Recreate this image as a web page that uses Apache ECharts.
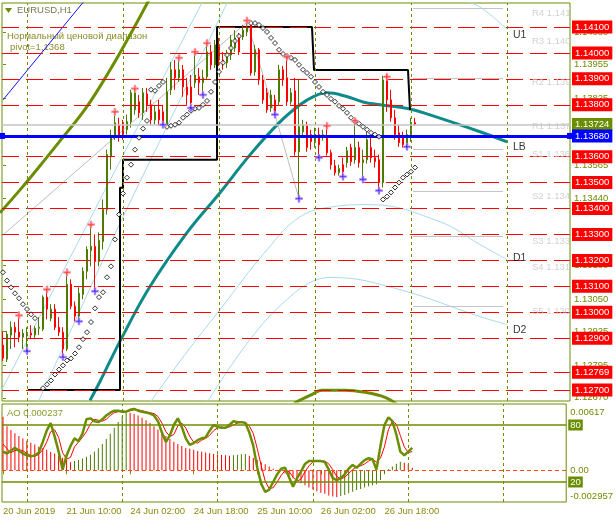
<!DOCTYPE html>
<html><head><meta charset="utf-8">
<script src="https://cdn.jsdelivr.net/npm/echarts@6/dist/echarts.min.js"></script>
<style>html,body{margin:0;padding:0;background:#fff}#c{width:616px;height:523px}</style>
</head><body><div id="c"></div>
<script>
// ---------- DATA ----------
const dateLabels = ['20 Jun 2019','21 Jun 10:00','24 Jun 02:00','24 Jun 18:00','25 Jun 10:00','26 Jun 02:00','26 Jun 18:00'];
const dateTickIdx = [0,16,32,48,64,80,96];
const daySepIdx = [6,30,54,78,102,126];

const opens = [1.12873,1.12819,1.12912,1.12942,1.12923,1.12904,1.12908,1.12919,1.12912,1.12938,
1.12935,1.13058,1.12977,1.13012,1.12942,1.12923,1.12858,1.13108,1.13023,1.12985,
1.13069,1.13158,1.13238,1.13254,1.13196,1.13273,1.13396,1.13600,1.13677,1.13723,
1.13723,1.13704,1.13735,1.13781,1.13812,1.13769,1.13842,1.13800,1.13742,1.13781,
1.13773,1.13723,1.13858,1.13935,1.13904,1.13935,1.13869,1.13869,1.13885,1.13908,
1.13885,1.13908,1.14004,1.13954,1.14031,1.13973,1.13962,1.13992,1.14019,1.14058,
1.14062,1.14081,1.14108,1.13927,1.14012,1.13896,1.13846,1.13788,1.13819,1.13812,
1.13935,1.13904,1.13812,1.13854,1.13619,1.13696,1.13719,1.13685,1.13654,1.13685,
1.13677,1.13677,1.13615,1.13565,1.13538,1.13569,1.13577,1.13635,1.13588,1.13635,
1.13577,1.13588,1.13635,1.13596,1.13588,1.13500,1.13896,1.13819,1.13750,1.13692,
1.13673,1.13646,1.13673,1.13731];
const closes = [1.12823,1.12915,1.12942,1.12923,1.12904,1.12919,1.12919,1.12912,1.12938,1.12942,
1.13058,1.13012,1.13012,1.12942,1.12923,1.12858,1.13108,1.13023,1.12985,1.13073,
1.13158,1.13242,1.13254,1.13196,1.13277,1.13396,1.13608,1.13677,1.13731,1.13677,
1.13673,1.13735,1.13846,1.13846,1.13769,1.13846,1.13800,1.13742,1.13773,1.13742,
1.13731,1.13850,1.13935,1.13904,1.13935,1.13869,1.13838,1.13808,1.13915,1.13885,
1.13904,1.14004,1.13954,1.14031,1.13973,1.13962,1.13985,1.14050,1.14058,1.14004,
1.14088,1.14100,1.13923,1.14012,1.13896,1.13819,1.13781,1.13838,1.13773,1.13935,
1.13896,1.13812,1.13846,1.13619,1.13715,1.13723,1.13635,1.13658,1.13685,1.13646,
1.13685,1.13615,1.13569,1.13538,1.13554,1.13542,1.13623,1.13581,1.13635,1.13577,
1.13588,1.13665,1.13596,1.13581,1.13500,1.13896,1.13819,1.13750,1.13685,1.13654,
1.13646,1.13685,1.13731,1.13724];
const lows = [1.12812,1.12808,1.12858,1.12865,1.12885,1.12858,1.12850,1.12896,1.12896,1.12912,
1.12927,1.12973,1.12965,1.12931,1.12908,1.12827,1.12850,1.13012,1.12965,1.12965,
1.13050,1.13127,1.13177,1.13081,1.13177,1.13242,1.13377,1.13550,1.13665,1.13658,
1.13665,1.13685,1.13712,1.13762,1.13750,1.13742,1.13773,1.13723,1.13723,1.13719,
1.13723,1.13712,1.13838,1.13858,1.13888,1.13831,1.13800,1.13788,1.13865,1.13838,
1.13838,1.13896,1.13935,1.13942,1.13950,1.13935,1.13942,1.13973,1.14004,1.13992,
1.14050,1.14065,1.13912,1.13912,1.13877,1.13804,1.13769,1.13773,1.13762,1.13796,
1.13873,1.13796,1.13800,1.13604,1.13438,1.13677,1.13619,1.13627,1.13635,1.13596,
1.13662,1.13604,1.13550,1.13527,1.13527,1.13523,1.13558,1.13565,1.13573,1.13558,
1.13512,1.13573,1.13577,1.13558,1.13469,1.13481,1.13773,1.13735,1.13665,1.13638,
1.13635,1.13631,1.13658,1.13719];
const highs = [1.12927,1.12927,1.12965,1.12962,1.12981,1.12935,1.12942,1.12950,1.12946,1.12981,
1.13065,1.13088,1.13031,1.13031,1.12981,1.12942,1.13154,1.13127,1.13042,1.13096,
1.13173,1.13254,1.13338,1.13300,1.13308,1.13435,1.13627,1.13704,1.13773,1.13750,
1.13742,1.13762,1.13858,1.13862,1.13838,1.13865,1.13865,1.13819,1.13800,1.13819,
1.13800,1.13904,1.13965,1.13973,1.13981,1.13954,1.13904,1.13915,1.14004,1.13942,
1.13935,1.14038,1.14031,1.14050,1.14058,1.14004,1.14012,1.14069,1.14088,1.14077,
1.14108,1.14119,1.14112,1.14031,1.14019,1.13915,1.13865,1.13858,1.13838,1.13954,
1.13950,1.13985,1.13865,1.13904,1.13900,1.13742,1.13735,1.13704,1.13712,1.13712,
1.13704,1.13719,1.13627,1.13588,1.13569,1.13596,1.13638,1.13650,1.13738,1.13658,
1.13627,1.13696,1.13673,1.13627,1.13608,1.13912,1.13919,1.13858,1.13781,1.13723,
1.13696,1.13704,1.13750,1.13750];

const sar = [1.13154,1.13122,1.13096,1.13073,1.13054,1.13031,1.13012,1.12992,1.12977,null,
1.12707,1.12722,1.12737,1.12760,1.12779,1.12795,1.12814,1.12822,1.12841,1.12865,
1.12896,1.12923,1.12962,1.13015,1.13058,1.13077,1.13135,1.13177,1.13281,1.13377,
1.13458,1.13519,1.13569,1.13627,1.13673,1.13708,1.13738,1.13858,1.13854,1.13873,
1.13888,1.13715,1.13719,1.13723,1.13731,1.13750,1.13762,1.13777,1.13785,1.13788,
1.13800,1.13815,1.13850,1.13888,1.13927,1.13962,1.13992,1.14019,1.14046,1.14065,
null,null,1.14115,1.14115,1.14108,1.14096,1.14081,1.14058,1.14038,1.14012,
1.13996,1.13988,1.13981,1.13973,1.13954,1.13935,1.13923,1.13908,1.13888,1.13869,
1.13850,1.13838,1.13823,1.13812,1.13796,1.13785,1.13769,1.13750,1.13735,1.13727,
1.13715,1.13704,1.13692,1.13685,1.13677,1.13435,1.13446,1.13462,1.13481,1.13500,
1.13519,1.13531,1.13542,1.13558];

const fracUpIdx = [4,11,16,22,28,33,44,48,51,61,71,81,88,96];
const fracUpVal = [1.12988,1.13088,1.13154,1.13338,1.13773,1.13862,1.13981,1.14004,1.14038,1.14125,1.13985,1.13719,1.13738,1.13908];
const fracDnIdx = [6,15,19,23,40,47,50,68,74,79,85,90,94,101];
const fracDnVal = [1.12850,1.12827,1.12965,1.13081,1.13723,1.13788,1.13838,1.13762,1.13438,1.13596,1.13523,1.13512,1.13469,1.13638];

const tealMA = [[21.75,1.12660],[24.25,1.12733],[29.75,1.12903],[36.75,1.13099],[46,1.13307],[54.25,1.13461],[61.75,1.13607],[69.25,1.13734],[74.25,1.13800],[77.5,1.13831],[81,1.13846],[85.5,1.13834],[90,1.13811],[94.25,1.13800],[101.75,1.13784],[106.75,1.13761],[119.25,1.13696],[126,1.13657]];
const oliveUpper = [[-0.75,1.13384],[4.25,1.13472],[9.25,1.13565],[14.25,1.13661],[20.75,1.13788],[26.75,1.13934],[31.75,1.14069],[36.75,1.14212]];
const oliveLower = [[72.75,1.12649],[76.75,1.12679],[79.75,1.12699],[85.5,1.12699],[90.5,1.12691],[95.5,1.12672],[98.5,1.12645]];
const lightBlue1 = [[-0.75,1.12687],[24.25,1.13434],[50.5,1.14216]];
const lightBlue2 = [[8.75,1.12652],[24.25,1.13176],[30.5,1.13384],[44.25,1.13819],[56.75,1.14216]];
const lightBlue3 = [[36.75,1.12652],[45.5,1.12837],[54.25,1.13010],[66,1.13241],[74.25,1.13368],[82.5,1.13407],[91.75,1.13415],[109.25,1.13349],[119.25,1.13261],[126,1.13203]];
const lightBlue4 = [[51,1.12652],[61.75,1.12895],[71,1.13049],[78.5,1.13126],[82.5,1.13134],[99.25,1.13087],[119.25,1.12983],[126,1.12953]];
const lightBlue5 = [[113,1.14216],[119.25,1.14177],[126,1.14092]];
const zigzag = [[-0.75,1.13288],[61,1.14119],[68,1.13762],[74,1.13438]];
const blueDiag = [[0,1.13819],[20.5,1.14204]];
const dayRange = [[6.25,1.12700],[29.25,1.12700],[29.25,1.13480],[30,1.13480],[30,1.13588],[53.5,1.13588],[53.5,1.14100],[77.25,1.14100],[77.75,1.13934],[101.25,1.13934],[101.75,1.13780]];

const redLevels = [1.14100,1.14000,1.13900,1.13800,1.13600,1.13500,1.13400,1.13300,1.13200,1.13100,1.13000,1.12900,1.12769,1.12700];
const priceTicks = [1.14080,1.13955,1.13825,1.13565,1.13440,1.13180,1.13050,1.12925,1.12795,1.12670];
const pivotPrice = 1.13680;
const bidPrice = 1.13724;
const pivotNames = ['R4 1.141','R3 1.140','R2 1.139','R1 1.137','S1 1.136','S2 1.134','S3 1.133','S4 1.131','S5 1.130'];
const pivotVals = [1.14173,1.14062,1.13904,1.13735,1.13627,1.13465,1.13292,1.13191,1.13022];
const pivotLineVals = [1.14173,1.13904,1.13627,1.13465,1.13292,1.13022];
const zoneNames = ['U1','LB','D1','D2'];
const zoneVals = [1.14069,1.13638,1.13207,1.12933];

const aoValues = [0.00498,0.0041,0.00375,0.00345,0.0032,0.00295,0.00275,0.00255,0.0024,0.0022,
0.00205,0.0019,0.0017,0.00155,0.00135,0.00115,0.00095,0.00075,0.00085,0.00095,
0.0011,0.00125,0.00145,0.00175,0.00205,0.00245,0.0029,0.0034,0.00395,0.0045,
0.005,0.0054,0.00535,0.00525,0.0051,0.0049,0.00465,0.0044,0.0041,0.0038,
0.0035,0.0032,0.0029,0.00265,0.00245,0.00225,0.0021,0.002,0.0019,0.0018,
0.00172,0.00165,0.00158,0.00152,0.00147,0.00143,0.0014,0.00136,0.0014,0.00145,
0.0015,0.00152,0.00135,0.00115,0.00095,0.00075,0.00055,0.00035,0.00015,-0.0001,
-0.00005,-0.0003,-0.0005,-0.00075,-0.0009,-0.0012,-0.0014,-0.0016,-0.0018,-0.00195,
-0.0021,-0.0022,-0.00235,-0.00245,-0.0025,-0.0024,-0.0023,-0.00215,-0.002,-0.00185,
-0.00175,-0.0016,-0.0015,-0.0014,-0.0013,-0.0009,-0.0003,0.0001,0.00035,0.0006,
0.0008,0.0007,0.00055,0.000237];
const aoTicks = [0.00617,0,-0.002957];
const aoTickLabels = ['0.00617','0.00','-0.002957'];
const stochK = [52,50,53,56,53,50,48,47,48,51,
62,74,82,68,52,33,48,58,66,63,
71,86,87,84,83,86,90,93,95,95,
94,94,96,97,95,94,93,92,90,84,
72,62,69,80,87,78,66,59,61,64,
66,67,74,80,78,77,77,80,84,83,
83,82,72,58,35,18,9.5,12,20,28,
34,35,25,15,24,31,39,42,42,42,
42,41,33,24,22,24,28,34,38,35,
39,43,45,44,33,58,80,88,84,70,
52,48,52,56];
const stochD = [60,55,51,53,54,53,50,48,47,49,
54,62,73,75,67,51,44,46,57,62,
67,73,81,86,85,84,86,90,93,94,
95,94,95,96,96,95,94,93,92,89,
82,73,68,70,79,82,77,68,62,61,
64,66,69,74,77,78,77,78,80,82,
83,83,79,71,55,37,21,13,14,20,
27,32,31,25,21,23,31,37,41,42,
42,42,39,33,26,23,25,29,33,36,
37,39,42,44,41,45,57,75,84,81,
69,57,51,52];
const stochLevels = [80,20];

// ---------- STYLE ----------
const OL = '#6b8e00', GRN = '#4d7a00', RED = '#ff0000', TXT = '#6f8a00';
const FF = '"Liberation Sans", Arial, sans-serif';
const idx = a => a.map((v,i)=>[i,v]);

const chart = echarts.init(document.getElementById('c'));
const lineS = (data, color, width, z, smooth) => ({type:'line', xAxisIndex:0, yAxisIndex:0, data, symbol:'none', smooth: smooth||false, lineStyle:{color, width}, silent:true, z, animation:false});

const option = {
  animation:false,
  textStyle:{fontFamily:FF},
  grid:[
    {left:2, right:46, top:3, height:398, show:true, borderColor:OL, borderWidth:1},
    {left:2, right:46, top:404, height:98, show:true, borderColor:OL, borderWidth:1}
  ],
  xAxis:[
    {gridIndex:0, type:'value', min:-0.25, max:141.75, show:false},
    {gridIndex:1, type:'value', min:-0.25, max:141.75,
      axisLine:{show:false}, splitLine:{show:false},
      axisTick:{show:true, customValues:dateTickIdx, length:4, lineStyle:{color:OL}},
      axisLabel:{customValues:dateTickIdx, formatter:v=>dateLabels[dateTickIdx.indexOf(v)], align:'left', color:'#8a8a10', fontSize:9.5, margin:4}}
  ],
  yAxis:[
    {gridIndex:0, type:'value', position:'right', min:1.126577, max:1.141926,
      axisLine:{show:false}, splitLine:{show:false},
      axisTick:{show:true, customValues:priceTicks, length:3, lineStyle:{color:OL}},
      axisLabel:{customValues:priceTicks, formatter:v=>v.toFixed(5), color:TXT, fontSize:9.5, margin:4}},
    {gridIndex:1, type:'value', position:'right', min:-0.002957, max:0.00617,
      axisLine:{show:false}, splitLine:{show:false}, axisTick:{show:false},
      axisLabel:{customValues:aoTicks, color:TXT, fontSize:9.5, margin:4,
        formatter:v=>{const k=aoTicks.indexOf(v); return k===0?'{t|'+aoTickLabels[k]+'}':(k===2?'{b|'+aoTickLabels[k]+'}':aoTickLabels[k]);},
        rich:{t:{padding:[16,0,0,0],color:TXT,fontSize:9.5}, b:{padding:[0,0,12,0],color:TXT,fontSize:9.5}}}},
    {gridIndex:1, type:'value', position:'right', min:-1.05, max:102.1, show:false}
  ],
  graphic:[
    {type:'polygon', shape:{points:[[5,8],[12,8],[8.5,13]]}, style:{fill:OL}},
    {type:'text', left:17, top:5, style:{text:'EURUSD,H1', fill:'#7a7a50', font:'9.5px '+FF}},
    {type:'text', left:7, top:31, style:{text:'Нормальный ценовой диапазон', fill:'#8a8a2a', font:'9.5px '+FF}},
    {type:'text', left:10, top:42, style:{text:'pivot=1,1368', fill:'#8a8a2a', font:'9.5px '+FF}},
    {type:'text', left:7, top:408, style:{text:'AO 0.000237', fill:'#8a9a2a', font:'9.5px '+FF}}
  ],
  series:[
    {type:'line', xAxisIndex:0, yAxisIndex:0, data:[], z:1, silent:true,
      markLine:{silent:true, symbol:'none', animation:false, precision:5,
        lineStyle:{color:RED, type:[17,7], width:1},
        label:{position:'end', distance:2, color:'#fff', backgroundColor:RED, padding:[2,3,1,3], fontSize:9.5},
        data: redLevels.map(v=>({yAxis:v, label:{formatter:v.toFixed(5)}}))}},
    {type:'line', xAxisIndex:0, yAxisIndex:0, data:[], z:1, silent:true,
      markLine:{silent:true, symbol:'none', animation:false, precision:3, label:{show:false},
        lineStyle:{color:OL, type:[3,3], width:1}, data: daySepIdx.map(v=>({xAxis:v}))}},
    {type:'line', xAxisIndex:1, yAxisIndex:1, data:[], z:1, silent:true,
      markLine:{silent:true, symbol:'none', animation:false, precision:3, label:{show:false},
        lineStyle:{color:OL, type:[3,3], width:1}, data: daySepIdx.map(v=>({xAxis:v}))}},
    {type:'line', xAxisIndex:0, yAxisIndex:0, data:[], z:2, silent:true,
      markLine:{silent:true, symbol:'none', animation:false, precision:5,
        lineStyle:{color:'#c4c4c4', type:'solid', width:1},
        label:{show:false},
        data: [{yAxis:bidPrice, lineStyle:{width:1.5}, label:{show:true, position:'end', distance:2, formatter:bidPrice.toFixed(5), color:'#fff', backgroundColor:OL, padding:[2,3,1,3], fontSize:9.5}}]
          .concat(pivotLineVals.map(v=>[{coord:[102.5,v]},{coord:[125,v]}]))}},
    lineS(lightBlue1,'#a9d9e9',1,2),
    lineS(lightBlue2,'#a9d9e9',1,2,0.3),
    lineS(lightBlue3,'#a9d9e9',1,2,0.4),
    lineS(lightBlue4,'#a9d9e9',1,2,0.4),
    lineS(lightBlue5,'#a9d9e9',1,2,0.3),
    lineS(zigzag,'#bdbdbd',1,2),
    lineS(blueDiag,'#1010ff',1,2),
    lineS(oliveUpper,OL,3,3,0.4),
    lineS(oliveLower,OL,3,3,0.4),
    lineS(tealMA,'#0f8a8a',3,3,0.4),
    lineS(dayRange,'#000',2,3),
    {type:'candlestick', xAxisIndex:0, yAxisIndex:0, z:4, barWidth:2, silent:true,
      data: opens.map((o,i)=>[i,o,closes[i],lows[i],highs[i]]),
      encode:{x:0, y:[1,2,3,4]},
      itemStyle:{color:GRN, color0:RED, borderColor:GRN, borderColor0:RED, borderWidth:1}},
    {type:'scatter', xAxisIndex:0, yAxisIndex:0, z:5, silent:true, symbol:'diamond', symbolSize:5,
      data: idx(sar).filter(d=>d[1]!==null),
      itemStyle:{color:'#fff', borderColor:'#000', borderWidth:1}},
    {type:'scatter', xAxisIndex:0, yAxisIndex:0, z:6, silent:true,
      symbol:'path://M3,0H5V3H8V5H5V8H3V5H0V3H3Z', symbolSize:7,
      data: fracUpIdx.map((x,k)=>[x,fracUpVal[k]]),
      itemStyle:{color:'#ff3000', borderColor:'#ff9ac0', borderWidth:1}},
    {type:'scatter', xAxisIndex:0, yAxisIndex:0, z:6, silent:true,
      symbol:'path://M3,0H5V3H8V5H5V8H3V5H0V3H3Z', symbolSize:7,
      data: fracDnIdx.map((x,k)=>[x,fracDnVal[k]]),
      itemStyle:{color:'#1a1aff', borderColor:'#c890ff', borderWidth:1}},
    {type:'line', xAxisIndex:0, yAxisIndex:0, data:[], z:7, silent:true,
      markLine:{silent:true, symbol:['rect','rect'], symbolSize:6, animation:false, precision:5,
        lineStyle:{color:'#0000ff', type:'solid', width:3},
        label:{position:'end', distance:2, color:'#fff', backgroundColor:'#0000ff', padding:[2,3,1,3], fontSize:9.5, formatter:pivotPrice.toFixed(5)},
        data:[{yAxis:pivotPrice}]}},
    {type:'scatter', xAxisIndex:0, yAxisIndex:0, z:8, silent:true, symbolSize:0,
      data: pivotVals.map((v,k)=>({value:[132.25,v], name:pivotNames[k]})),
      label:{show:true, position:'right', distance:0, offset:[0,5], formatter:'{b}', color:'#c6c6c6', fontSize:9.5}},
    {type:'scatter', xAxisIndex:0, yAxisIndex:0, z:8, silent:true, symbolSize:0,
      data: zoneVals.map((v,k)=>({value:[127.5,v], name:zoneNames[k]})),
      label:{show:true, position:'right', distance:0, formatter:'{b}', color:'#000', fontSize:10.5}},
    {type:'bar', xAxisIndex:1, yAxisIndex:1, z:2, silent:true, barWidth:1,
      data: idx(aoValues),
      itemStyle:{color:p=>{const i=p.dataIndex; return (i>0 && aoValues[i]>aoValues[i-1]) ? GRN : RED;}},
      markLine:{silent:true, symbol:'none', animation:false, precision:5, label:{show:false},
        lineStyle:{color:'#ff4a10', type:[4,3], width:1}, data:[{yAxis:0}]}},
    {type:'line', xAxisIndex:1, yAxisIndex:2, z:3, silent:true, symbol:'none',
      data: idx(stochD), lineStyle:{color:RED, width:1}},
    {type:'line', xAxisIndex:1, yAxisIndex:2, z:4, silent:true, symbol:'none',
      data: idx(stochK), lineStyle:{color:OL, width:2.5},
      markLine:{silent:true, symbol:'none', animation:false, precision:2,
        lineStyle:{color:OL, type:'solid', width:1.5},
        label:{position:'end', distance:2, color:'#fff', backgroundColor:OL, padding:[1,2,0,2], fontSize:9.5},
        data: stochLevels.map(v=>({yAxis:v, label:{formatter:String(v)}}))}}
  ]
};
chart.setOption(option);
</script></body></html>
